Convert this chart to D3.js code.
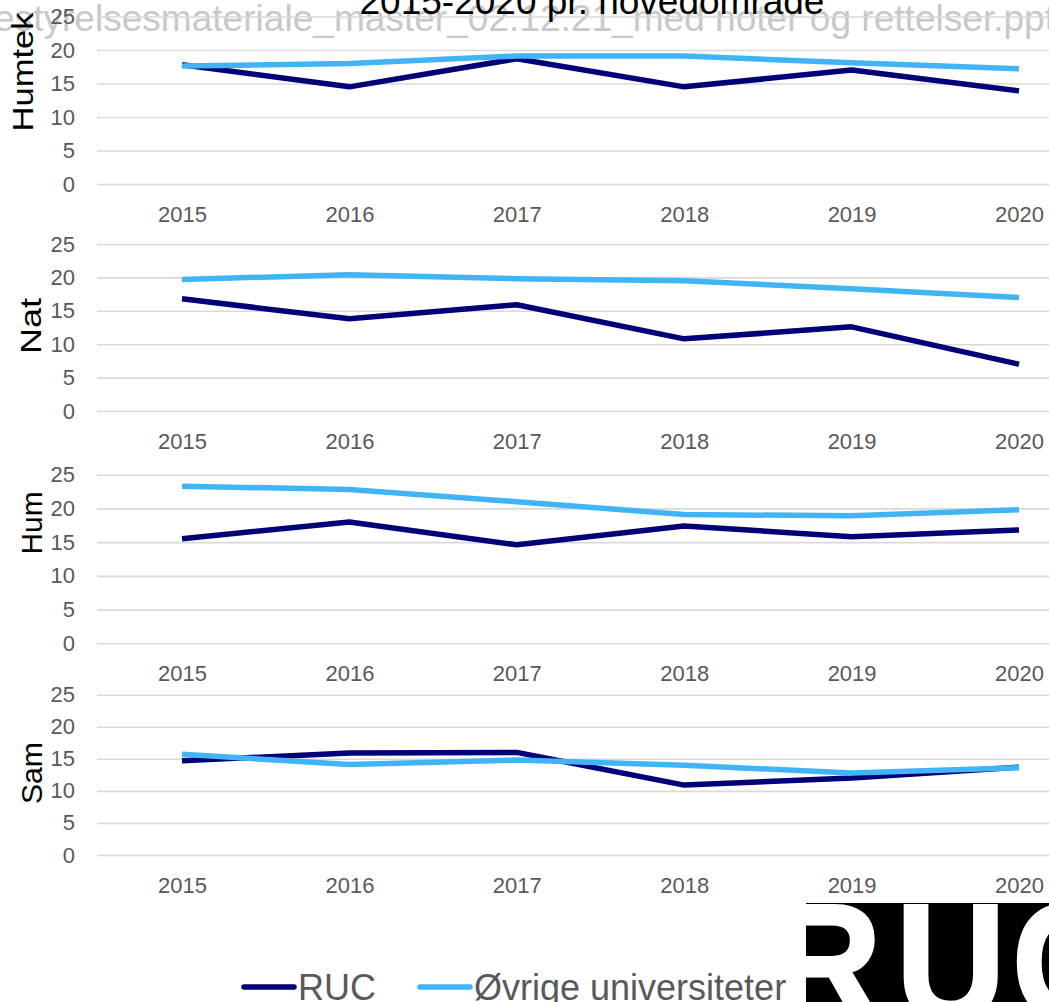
<!DOCTYPE html>
<html>
<head>
<meta charset="utf-8">
<script src="https://cdn.jsdelivr.net/npm/d3@7"></script>
<style>
  html, body { margin: 0; padding: 0; background: #fff; }
  svg { display: block; }
</style>
</head>
<body>
<svg id="chart" width="1049" height="1002"></svg>
<script>
// ---------- data ----------
const years = [2015, 2016, 2017, 2018, 2019, 2020];
const panelNames = ["Humtek", "Nat", "Hum", "Sam"];
const yTicks = [0, 5, 10, 15, 20, 25];
const seriesNames = ["RUC", "Øvrige universiteter"];

const rucHumtek = [17.8, 14.5, 18.7, 14.5, 17.0, 13.9];
const ovrHumtek = [17.6, 18.0, 19.1, 19.1, 18.1, 17.2];
const rucNat    = [16.8, 13.8, 15.9, 10.8, 12.6, 7.0];
const ovrNat    = [19.7, 20.4, 19.8, 19.5, 18.3, 17.0];
const rucHum    = [15.5, 18.0, 14.6, 17.4, 15.8, 16.8];
const ovrHum    = [23.3, 22.8, 21.0, 19.1, 18.9, 19.8];
const rucSam    = [14.7, 15.9, 16.0, 10.9, 12.0, 13.7];
const ovrSam    = [15.7, 14.1, 14.8, 14.0, 12.8, 13.6];

const titleText = "2015-2020 pr. hovedområde";
const watermarkText = "estyrelsesmateriale_master_02.12.21_med noter og rettelser.ppt";
const logoLetters = ["R", "U", "C"];

// ---------- layout ----------
const W = 1049, H = 1002;
const colors = ["#000078", "#40b4f4"];
const font = "Arial, 'Liberation Sans', Helvetica, sans-serif";
const gridLeft = 97;
const panelLayout = [
  { top: 16.5, bottom: 184, labelX: 33, labelY: 72, labelLen: 119 },
  { top: 244, bottom: 411, labelX: 41, labelY: 326, labelLen: 56 },
  { top: 474.7, bottom: 643.3, labelX: 42, labelY: 523, labelLen: 63 },
  { top: 694.7, bottom: 855, labelX: 42, labelY: 773, labelLen: 62 }
];
const panelData = [
  [rucHumtek, ovrHumtek],
  [rucNat, ovrNat],
  [rucHum, ovrHum],
  [rucSam, ovrSam]
];

const svg = d3.select("#chart").style("font-family", font);

const x = d3.scalePoint().domain(years).range([182, 1019]);

// watermark (behind)
svg.append("text")
  .attr("x", -6).attr("y", 31)
  .attr("textLength", 1061).attr("lengthAdjust", "spacingAndGlyphs")
  .attr("font-size", 37).attr("fill", "#c8c8c8")
  .text(watermarkText);

// RUC logo (cropped): white letters on a black block
svg.append("rect")
  .attr("x", 806).attr("y", 903).attr("width", W - 806).attr("height", H - 903)
  .attr("fill", "#000");
const logoX = [772, 896, 1012];
logoLetters.forEach((ch, k) => {
  svg.append("text")
    .attr("transform", `translate(${logoX[k]},1019) scale(0.92,1)`)
    .attr("font-size", 165).attr("font-weight", "bold")
    .attr("fill", "#fff").attr("stroke", "#fff").attr("stroke-width", 3)
    .attr("font-family", "'Liberation Sans', Arial, sans-serif")
    .text(ch);
});

panelNames.forEach((name, i) => {
  const L = panelLayout[i];
  const y = d3.scaleLinear().domain([0, 25]).range([L.bottom, L.top]);
  const g = svg.append("g");

  const yAxis = g.append("g")
    .attr("transform", `translate(${gridLeft},0)`)
    .call(d3.axisLeft(y).tickValues(yTicks).tickSize(-(W - gridLeft)).tickPadding(22));
  yAxis.select(".domain").remove();
  yAxis.selectAll(".tick line").attr("stroke", "#d9d9d9").attr("stroke-width", 1.6);
  yAxis.selectAll(".tick text").attr("fill", "#595959").attr("font-size", 22)
    .attr("font-family", font);

  const xAxis = g.append("g")
    .attr("transform", `translate(0,${L.bottom})`)
    .call(d3.axisBottom(x).tickSize(0).tickPadding(22));
  xAxis.select(".domain").remove();
  xAxis.selectAll(".tick text").attr("fill", "#595959").attr("font-size", 22)
    .attr("font-family", font);

  g.append("text")
    .attr("transform", `translate(${L.labelX},${L.labelY}) rotate(-90)`)
    .attr("text-anchor", "middle")
    .attr("font-size", 29).attr("fill", "#000")
    .attr("textLength", L.labelLen).attr("lengthAdjust", "spacingAndGlyphs")
    .text(name);

  const line = d3.line().x((d, j) => x(years[j])).y(d => y(d));
  panelData[i].forEach((vals, s) => {
    g.append("path")
      .datum(vals)
      .attr("d", line)
      .attr("fill", "none")
      .attr("stroke", colors[s])
      .attr("stroke-width", 5.5)
      .attr("stroke-linejoin", "round");
  });
});

// title (clipped at top)
svg.append("text")
  .attr("x", 592).attr("y", 14)
  .attr("text-anchor", "middle")
  .attr("font-size", 37).attr("fill", "#000")
  .text(titleText);

// legend
const legendItems = [
  { x1: 244, x2: 294, tx: 298 },
  { x1: 420, x2: 470, tx: 474 }
];
seriesNames.forEach((n, s) => {
  const it = legendItems[s];
  svg.append("line")
    .attr("x1", it.x1).attr("x2", it.x2)
    .attr("y1", 987).attr("y2", 987)
    .attr("stroke", colors[s]).attr("stroke-width", 5.5)
    .attr("stroke-linecap", "round");
  svg.append("text")
    .attr("x", it.tx).attr("y", 1000)
    .attr("font-size", 36).attr("fill", "#595959")
    .text(n);
});
</script>
</body>
</html>
